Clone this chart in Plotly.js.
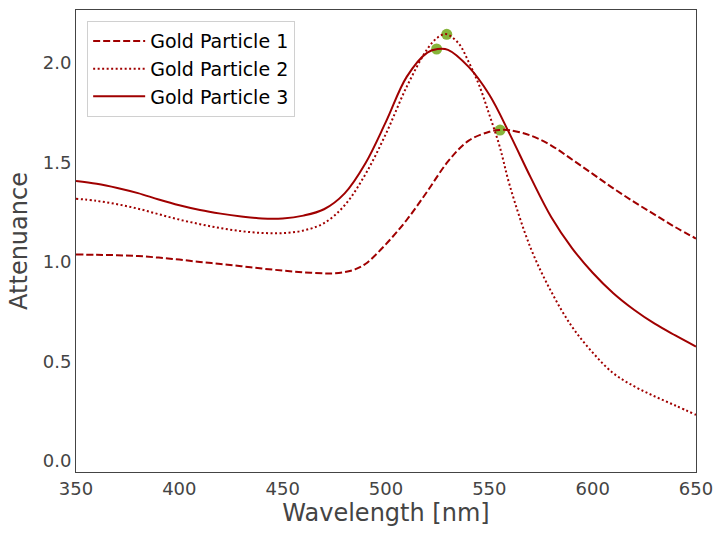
<!DOCTYPE html>
<html>
<head>
<meta charset="utf-8">
<script src="https://cdn.plot.ly/plotly-3.0.1.min.js"></script>
<style>html,body{margin:0;padding:0;background:#fff;}#chart{width:725px;height:535px;}</style>
</head>
<body>
<div id="chart"></div>
<script>
const wl1 = [350,360,370,380,390,400,410,420,430,440,450,460,470,475,480,485,490,500,510,520,530,540,550,555,560,570,580,590,600,610,620,630,640,650];
const p1  = [1.038,1.036,1.034,1.030,1.022,1.012,1.000,0.990,0.979,0.967,0.957,0.948,0.943,0.943,0.949,0.963,0.990,1.090,1.211,1.355,1.505,1.610,1.654,1.663,1.662,1.635,1.585,1.515,1.443,1.370,1.302,1.238,1.175,1.118];

const wl2 = [350,360,370,380,390,400,410,420,430,440,450,460,470,480,490,500,510,520,525,529,535,540,545,550,555,560,570,580,590,600,610,620,630,640,650];
const p2  = [1.318,1.307,1.290,1.268,1.240,1.213,1.190,1.170,1.155,1.146,1.145,1.158,1.195,1.285,1.440,1.645,1.880,2.070,2.128,2.145,2.100,2.005,1.890,1.740,1.580,1.380,1.070,0.850,0.675,0.545,0.441,0.376,0.325,0.279,0.232];

const wl3 = [350,360,370,380,390,400,410,420,430,440,450,460,470,480,490,500,510,520,525,530,540,550,560,570,580,590,600,610,620,630,640,650];
const p3  = [1.407,1.393,1.372,1.346,1.314,1.285,1.261,1.243,1.229,1.219,1.219,1.233,1.265,1.345,1.495,1.705,1.930,2.052,2.070,2.066,1.980,1.840,1.640,1.425,1.225,1.070,0.946,0.843,0.760,0.690,0.631,0.575];

const peakWl  = [555.2, 529.4, 524.5];
const peakVal = [1.663, 2.144, 2.070];

const names = ['Gold Particle 1','Gold Particle 2','Gold Particle 3'];
const red = '#a00000';

const traces = [
  {x: peakWl, y: peakVal, mode:'markers', type:'scatter', showlegend:false,
   marker:{color:'#86b43a', size:11, line:{width:0}}, hoverinfo:'skip'},
  {x: wl1, y: p1, name: names[0], mode:'lines', type:'scatter',
   line:{color:red, width:2, dash:'7px,3px', shape:'spline', smoothing:1}},
  {x: wl2, y: p2, name: names[1], mode:'lines', type:'scatter',
   line:{color:red, width:2, dash:'2px,2.5px', shape:'spline', smoothing:1}},
  {x: wl3, y: p3, name: names[2], mode:'lines', type:'scatter',
   line:{color:red, width:2, dash:'solid', shape:'spline', smoothing:1}}
];

const layout = {
  width:725, height:535,
  margin:{l:76, r:29, t:10, b:63},
  paper_bgcolor:'#fff', plot_bgcolor:'#fff',
  font:{family:'DejaVu Sans', color:'#444'},
  xaxis:{range:[350,650], dtick:50, tick0:350, showgrid:false, zeroline:false,
    showline:true, mirror:true, linecolor:'#444', linewidth:1, ticks:'', ticklen:0,
    tickfont:{size:18, color:'#444'},
    title:{text:'Wavelength [nm]', font:{size:24, color:'#444'}, standoff:4}},
  yaxis:{range:[-0.055,2.266], dtick:0.5, tick0:0, tickformat:'.1f', showgrid:false, zeroline:false,
    showline:true, mirror:true, linecolor:'#444', linewidth:1, ticks:'', ticklen:0,
    tickfont:{size:18, color:'#444'},
    title:{text:'Attenuance', font:{size:24, color:'#444'}, standoff:8}},
  legend:{x:0.018, y:0.976, xanchor:'left', yanchor:'top', bgcolor:'rgba(255,255,255,0.8)',
    bordercolor:'#d0d0d0', borderwidth:1, font:{size:19, color:'#000'}, tracegroupgap:0,
    itemwidth:52},
  showlegend:true
};

Plotly.newPlot('chart', traces, layout, {displayModeBar:false, staticPlot:true});
</script>
</body>
</html>
